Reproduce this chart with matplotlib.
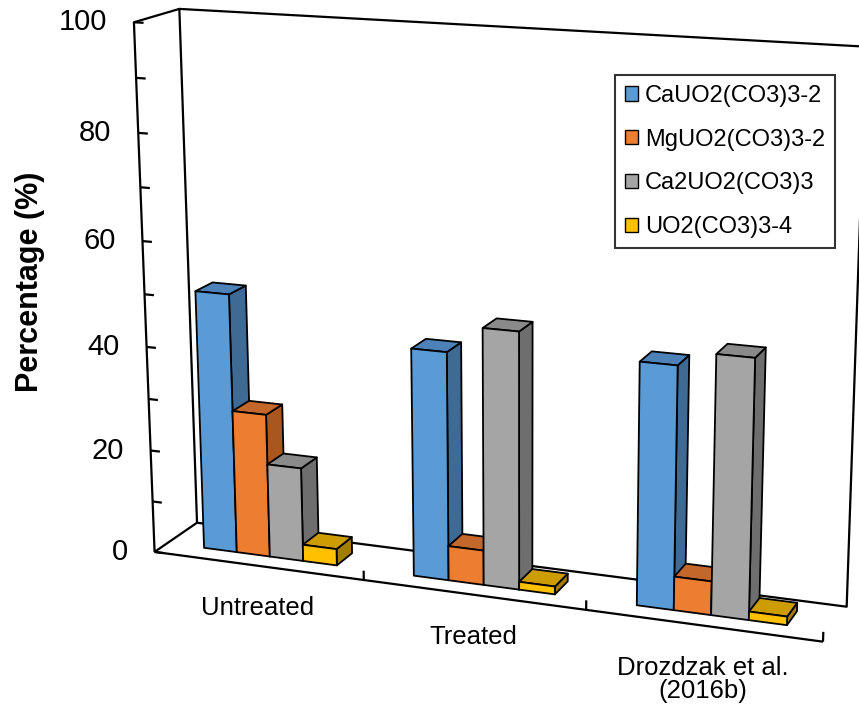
import numpy as np
import matplotlib
matplotlib.use("Agg")
import matplotlib.pyplot as plt
from matplotlib.patches import Polygon, Patch

plt.rcParams['font.family'] = ['Liberation Sans', 'DejaVu Sans']

# data
categories = ['Untreated', 'Treated', 'Drozdzak et al.\n(2016b)']
species = ['CaUO2(CO3)3-2', 'MgUO2(CO3)3-2', 'Ca2UO2(CO3)3', 'UO2(CO3)3-4']
untreated = [50.0, 27.7, 18.1, 3.2]
treated = [43.2, 6.6, 48.3, 1.5]
drozdzak = [45.0, 6.3, 47.7, 1.6]
values = [untreated, treated, drozdzak]
yticks = [0, 20, 40, 60, 80, 100]

front_cols = ['#5B9BD5', '#ED7D31', '#A5A5A5', '#FFC000']
top_cols = ['#4C82B8', '#C4672A', '#8A8A8A', '#CC9C00']
side_cols = ['#3E6A94', '#A9561F', '#6E6E6E', '#A47D00']

# perspective of the 3D box: (category, percent, depth) -> pixel, fitted on the frame corners
frame3 = [(0, 0, 0), (0, 50, 0), (0, 100, 0), (1, 0, 0), (2, 0, 0), (3, 0, 0),
          (0, 0, 1), (0, 100, 1), (3, 0, 1), (3, 100, 1)]
frame2 = [(155, 552), (145, 294), (134, 22), (363, 580), (586, 610), (823, 642),
          (197, 523), (179, 9), (847, 606), (866, 47)]

A = []
for (X, Y, Z), (u, v) in zip(frame3, frame2):
    Yn = Y / 30.0
    u, v = u / 100.0, v / 100.0
    A.append([X, Yn, Z, 1, 0, 0, 0, 0, -u*X, -u*Yn, -u*Z, -u])
    A.append([0, 0, 0, 0, X, Yn, Z, 1, -v*X, -v*Yn, -v*Z, -v])
P = np.linalg.svd(np.array(A))[2][-1].reshape(3, 4)


def proj(X, Y, Z):
    h = P @ np.array([X, Y / 30.0, Z, 1.0])
    return h[0] / h[2] * 100, h[1] / h[2] * 100


def line3(ax, pts, lw=1.6):
    xy = np.array([proj(*p) for p in pts])
    ax.plot(xy[:, 0], xy[:, 1], color='black', lw=lw, solid_capstyle='butt', zorder=1)


fig = plt.figure(figsize=(8.59, 7.18), dpi=100)
ax = fig.add_axes([0, 0, 1, 1])
ax.set_xlim(0, 859)
ax.set_ylim(718, 0)
ax.axis('off')

ncat = len(categories)
# walls and floor
line3(ax, [(0, 0, 0), (0, 100, 0), (0, 100, 1), (0, 0, 1), (0, 0, 0)])
line3(ax, [(0, 100, 1), (ncat, 100, 1), (ncat, 0, 1), (0, 0, 1)])
line3(ax, [(0, 0, 0), (ncat, 0, 0)])
for t in range(0, 101, 10):
    line3(ax, [(0, t, 0), (0.045, t, 0)])
for t in yticks:
    x, y = proj(0, t, 0)
    ax.text(x - 27, y, str(t), ha='right', va='center', fontsize=21)
for k in range(1, ncat + 1):
    line3(ax, [(k, 0, 0), (k, 1.8, 0)])

# category labels
for k, lab in enumerate(categories):
    x, y = proj(k + 0.5, 0, 0)
    ax.text(x, y + 30, lab, ha='center', va='top', fontsize=18.5,
            multialignment='center', linespacing=0.95)

ax.text(30, 282, 'Percentage (%)', rotation=90, ha='center', va='center',
        fontsize=22, fontweight='bold')

# bars
w = 0.16
z0, z1 = 0.3, 0.7
for g, vals in enumerate(values):
    for i, v in enumerate(vals):
        x0 = g + 0.5 - 2 * w + i * w
        x1 = x0 + w
        faces = [
            ([(x1, 0, z0), (x1, 0, z1), (x1, v, z1), (x1, v, z0)], side_cols[i]),
            ([(x0, v, z0), (x1, v, z0), (x1, v, z1), (x0, v, z1)], top_cols[i]),
            ([(x0, 0, z0), (x1, 0, z0), (x1, v, z0), (x0, v, z0)], front_cols[i]),
        ]
        for pts, col in faces:
            xy = [proj(*p) for p in pts]
            ax.add_patch(Polygon(xy, closed=True, facecolor=col, edgecolor='black',
                                 lw=1.3, joinstyle='round', zorder=2))

handles = [Patch(facecolor=c, edgecolor='black', lw=1.0) for c in front_cols]
leg = ax.legend(handles, species, loc='upper left',
                bbox_to_anchor=(615 / 859, 1 - 75 / 718), bbox_transform=fig.transFigure,
                fontsize=17, frameon=True, fancybox=False, borderaxespad=0,
                handlelength=0.55, handleheight=0.55, handletextpad=0.3,
                labelspacing=0.92, borderpad=0.42)
leg.get_frame().set_edgecolor('black')
leg.get_frame().set_linewidth(1.5)
leg.set_zorder(5)

fig.savefig('out.png', dpi=100)
